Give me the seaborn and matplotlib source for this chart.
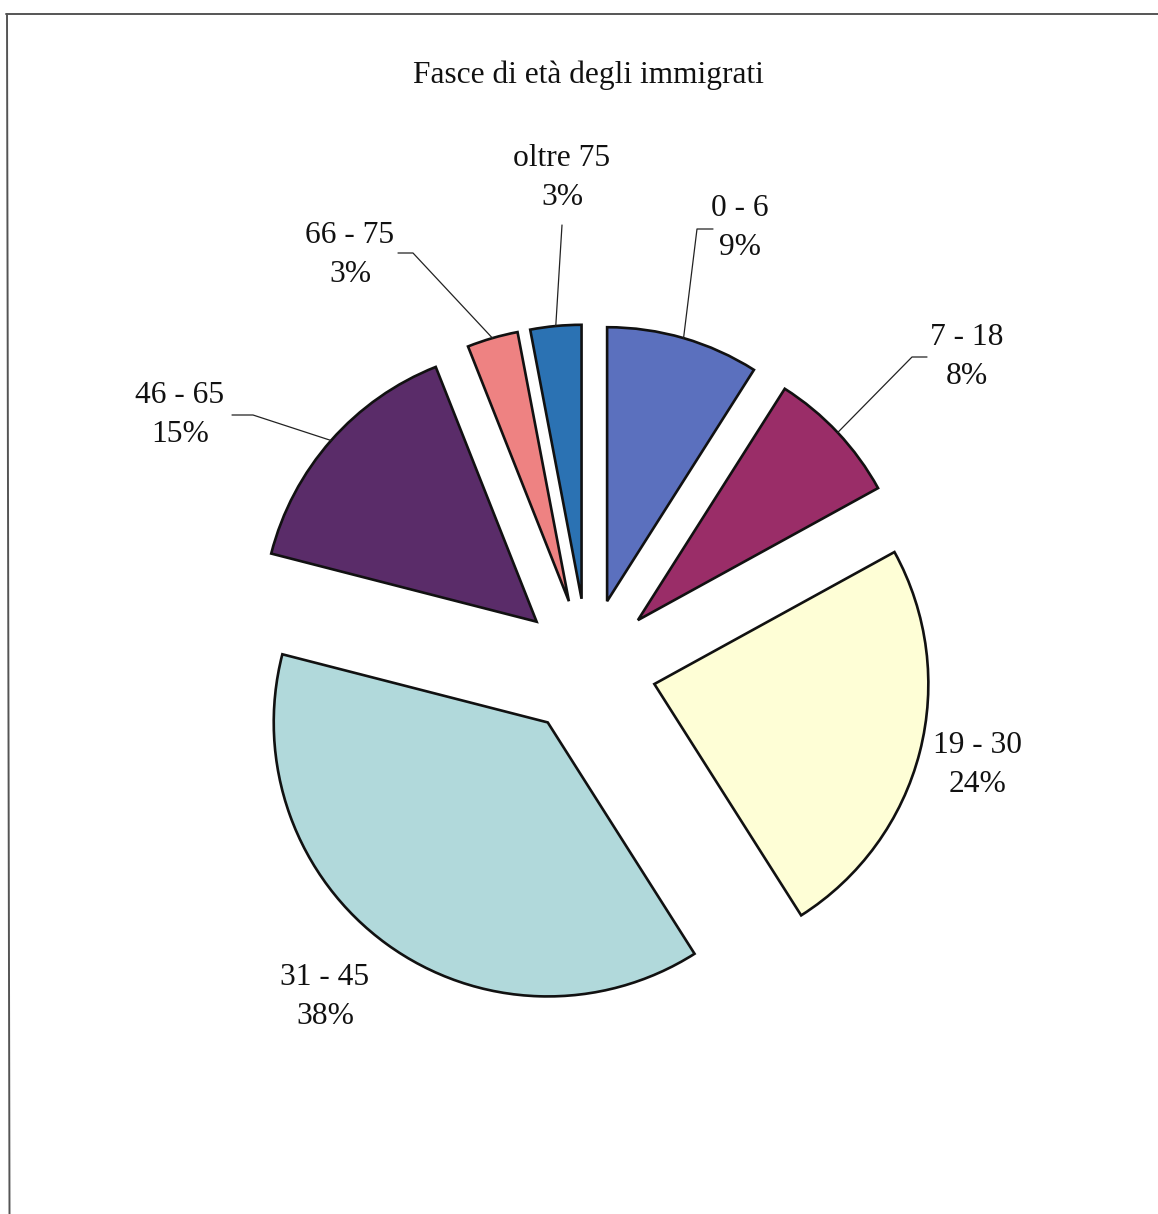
import numpy as np
import matplotlib
matplotlib.use("Agg")
import matplotlib.pyplot as plt
from matplotlib.lines import Line2D
import seaborn as sns

# ---------------- data ----------------
fasce = ["0 - 6", "7 - 18", "19 - 30", "31 - 45", "46 - 65", "66 - 75", "oltre 75"]
percentuali = [9, 8, 24, 38, 15, 3, 3]
colori = ["#5b70be", "#9a2d68", "#fefed6", "#b1d9db", "#5a2c69", "#ee8282", "#2b72b3"]

# ---------------- layout (pixels of the 1158x1214 canvas) ----------------
W, H = 1158, 1214
CX, CY, R = 588, 667, 274
text_pos = [(740, 228), (967, 357), (978, 765), (325, 997), (180, 415), (350, 255), (562, 178)]
leader_pts = [
    [(697, 229), (713, 229)],
    [(912, 357), (927, 357)],
    None,
    None,
    [(253, 415), (232, 415)],
    [(413, 253), (398, 253)],
    [(562, 225)],
]


def px(x, y):
    return ((x - CX) / R, (CY - y) / R)


sns.set_theme(style="white")
plt.rcParams["font.family"] = ["Liberation Serif", "DejaVu Serif"]

fig = plt.figure(figsize=(W / 100, H / 100), dpi=100)
ax = fig.add_axes([0, 0, 1, 1])

wedges, _ = ax.pie(
    percentuali,
    colors=colori,
    startangle=90,
    counterclock=False,
    explode=[0.25] * len(percentuali),
    radius=1,
    wedgeprops=dict(edgecolor="#111111", linewidth=1.9),
)
ax.set_xlim(-CX / R, (W - CX) / R)
ax.set_ylim(-(H - CY) / R, CY / R)
ax.axis("off")

for i, w in enumerate(wedges):
    label = f"{fasce[i]}\n{percentuali[i]}%"
    tx, ty = px(*text_pos[i])
    ax.text(tx, ty, label, ha="center", va="center", fontsize=22.7,
            linespacing=1.42, color="#111111")
    if leader_pts[i] is not None:
        ang = np.deg2rad((w.theta1 + w.theta2) / 2)
        ax0 = w.center[0] + w.r * np.cos(ang)
        ay0 = w.center[1] + w.r * np.sin(ang)
        pts = [(ax0, ay0)] + [px(*p) for p in leader_pts[i]]
        xs, ys = zip(*pts)
        ax.plot(xs, ys, color="#222222", linewidth=0.9)

tx, ty = px(588, 75)
ax.text(tx, ty, "Fasce di età degli immigrati", ha="center", va="center",
        fontsize=22.6, color="#111111")

# frame lines (top and left only)
fig.add_artist(Line2D([6 / W, 1], [1 - 14 / H, 1 - 14 / H], color="#555555", linewidth=1.4))
fig.add_artist(Line2D([7 / W, 9.5 / W], [1 - 14 / H, 0], color="#555555", linewidth=1.4))

fig.savefig("out.png", dpi=100)
